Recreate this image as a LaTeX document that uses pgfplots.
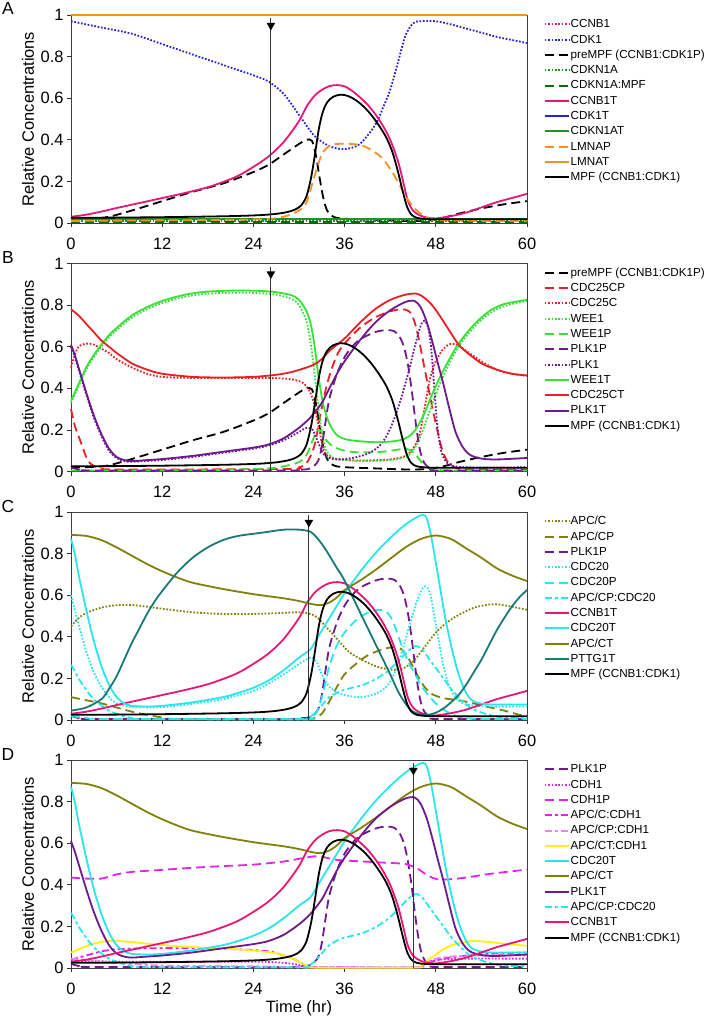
\documentclass[border=0pt]{standalone}
\usepackage{fontspec}
\setmainfont{Liberation Sans}
\usepackage{pgfplots}
\usepackage{pgfplotstable}
\pgfplotsset{compat=1.18}

\definecolor{cpink}{RGB}{232,22,118}
\definecolor{cblue}{RGB}{35,35,215}
\definecolor{corange}{RGB}{245,145,35}
\definecolor{cgreenA}{RGB}{30,150,30}
\definecolor{cgreenB}{RGB}{15,105,15}
\definecolor{cgreenT}{RGB}{35,145,35}
\definecolor{cred}{RGB}{235,30,35}
\definecolor{clime}{RGB}{55,225,55}
\definecolor{cpurple}{RGB}{110,25,140}
\definecolor{colive}{RGB}{128,128,10}
\definecolor{ccyan}{RGB}{40,230,235}
\definecolor{cteal}{RGB}{25,120,120}
\definecolor{cmag}{RGB}{228,35,228}
\definecolor{cviolet}{RGB}{238,130,238}
\definecolor{cyellow}{RGB}{255,240,20}

\pgfplotsset{
  dotd/.style={dash pattern=on 1.7bp off 1.7bp},
  dashd/.style={dash pattern=on 9bp off 5bp},
  dashdotd/.style={dash pattern=on 7bp off 3bp on 3bp off 3bp},
  panel/.style={
    scale only axis, width=456bp, height=208bp,
    xmin=0, xmax=60, ymin=0, ymax=1,
    xtick={0,12,24,36,48,60}, ytick={0,0.2,0.4,0.6,0.8,1},
    tick align=outside, xtick pos=bottom, ytick pos=left,
    major tick length=4bp,
    tick style={black!80, line width=0.7bp},
    axis line style={black!75, line width=0.8bp},
    ticklabel style={font=\fontsize{16.5}{18}\selectfont},
    xticklabel style={yshift=-7bp},
    /pgf/number format/assume math mode=true,
    ylabel={Relative Concentrations},
    ylabel style={font=\fontsize{16.5}{18}\selectfont, at={(axis description cs:-0.0943,0.5)}, anchor=center},
    clip=false,
    legend style={at={(1,1)}, anchor=north west, xshift=16.7bp, yshift=-1.7bp,
      draw=none, fill=none, inner sep=0pt, outer sep=0pt,
      font=\fontsize{11.7}{12}\selectfont,
      nodes={inner sep=1bp, text height=10bp, text depth=3.3bp},
      row sep=0pt, cells={anchor=west}},
    legend image code/.code={\draw[line width=2bp, #1] (0bp,0bp) -- (24bp,0bp);},
    every axis plot/.append style={line width=1.8bp, smooth},
  }
}

\pgfplotstableread{
t v
0 0.025
6 0.026
12 0.028
18 0.031
22 0.034
25 0.038
27 0.044
28.5 0.053
29.5 0.065
30.3 0.085
31 0.13
31.6 0.22
32.1 0.33
32.6 0.45
33.1 0.53
33.7 0.58
34.5 0.607
35.5 0.617
36.5 0.61
37.5 0.59
38.5 0.56
39.5 0.52
40.5 0.47
41.5 0.41
42.3 0.34
43 0.25
43.6 0.16
44.2 0.08
44.8 0.04
45.5 0.025
46.5 0.02
48 0.018
54 0.018
60 0.018
}\tMPF

\pgfplotstableread{
t v
0 0.03
2 0.04
4 0.055
6 0.072
8 0.088
10 0.104
12 0.12
14 0.136
16 0.153
18 0.172
20 0.197
22 0.227
24 0.27
26 0.32
28 0.39
30 0.49
31 0.56
32 0.61
33 0.64
34 0.658
35 0.663
36 0.657
37 0.635
38 0.605
39 0.57
40 0.525
41 0.47
42 0.4
43 0.3
43.7 0.2
44.3 0.11
45 0.06
46 0.035
47 0.025
48 0.022
50 0.033
52 0.05
54 0.075
56 0.1
58 0.12
60 0.14
}\tCCNBT

\pgfplotstableread{
t v
0 0.02
3 0.022
5 0.03
8 0.06
12 0.105
16 0.15
20 0.19
24 0.245
26 0.28
28 0.33
30 0.38
31 0.4
31.7 0.395
32.2 0.33
32.7 0.22
33.2 0.12
33.7 0.06
34.3 0.035
35.5 0.022
40 0.015
44 0.01
47 0.012
49 0.025
51 0.045
54 0.07
57 0.09
60 0.105
}\tpreMPF

\pgfplotstableread{
t v
0 0.02
1 0.01
3 0.005
28 0.005
30 0.008
31.5 0.015
32.5 0.05
33 0.12
33.5 0.24
34 0.35
35 0.47
36 0.55
37 0.6
38 0.635
40 0.67
41.5 0.68
42.5 0.675
43.2 0.65
43.8 0.6
44.3 0.52
44.8 0.4
45.2 0.28
45.6 0.17
46 0.09
46.5 0.04
47.2 0.015
48 0.005
60 0.005
}\tPLKP

\pgfplotstableread{
t v
0 0.61
0.5 0.56
1 0.5
2 0.38
3 0.27
4 0.18
5 0.11
6 0.07
7 0.055
8 0.05
10 0.055
12 0.06
16 0.075
20 0.095
24 0.115
26 0.13
28 0.16
30 0.21
31.5 0.26
33 0.33
34 0.4
35 0.47
36 0.53
38 0.63
40 0.715
42 0.775
44 0.815
45.2 0.82
46 0.79
46.8 0.72
47.5 0.63
48.2 0.53
49 0.42
49.8 0.3
50.6 0.19
51.5 0.12
52.5 0.08
54 0.062
56 0.058
60 0.065
}\tPLKT

\pgfplotstableread{
t v
0 0.87
0.5 0.8
1 0.7
2 0.53
3 0.38
4 0.26
5 0.17
6 0.11
7 0.08
8 0.068
10 0.065
12 0.068
16 0.085
20 0.11
22 0.13
24 0.155
26 0.19
28 0.24
30 0.3
31.5 0.34
32.5 0.4
33.5 0.46
35 0.55
36 0.61
38 0.71
40 0.8
42 0.875
44 0.94
45.5 0.975
46.3 0.987
46.8 0.97
47.3 0.9
47.8 0.8
48.5 0.65
49.2 0.5
50 0.36
51 0.22
52 0.13
53 0.09
55 0.075
60 0.075
}\tCDCT

\pgfplotstableread{
t v
0 0.89
2 0.885
4 0.865
6 0.83
8 0.79
10 0.75
12 0.715
14 0.685
16 0.66
20 0.63
24 0.605
28 0.585
30 0.572
32 0.555
33 0.553
34 0.565
35 0.59
36 0.625
38 0.67
40 0.72
42 0.775
44 0.83
46 0.87
48 0.887
50 0.87
52 0.825
54 0.78
56 0.73
58 0.695
60 0.668
}\tAPCT

\pgfplotstableread{
t v
0 0.265
0.5 0.235
1 0.2
2 0.145
3 0.1
4 0.07
5 0.045
6 0.03
7 0.018
8 0.01
10 0.004
30 0.003
31 0.005
32 0.03
33 0.07
34 0.11
35.5 0.14
37 0.155
38.5 0.17
40 0.195
41.5 0.23
43 0.28
44 0.32
45 0.35
45.6 0.355
46.3 0.335
47 0.3
48 0.25
49 0.2
50 0.15
51 0.11
52 0.075
53 0.05
55 0.025
57 0.012
60 0.008
}\tAPCCDC

\begin{document}
\begin{tikzpicture}
\path[use as bounding box] (0,0) rectangle (706bp,-1019bp);

% ---------------- Panel A ----------------
\begin{axis}[panel, name=pA, at={(71bp,-223bp)}, anchor=south west]
\addplot[cpink, dotd] coordinates {(0,0.008) (30,0.008) (60,0.008)};
\addlegendentry{CCNB1}
\addplot[cblue, dotd] coordinates {(0,0.97) (4,0.94) (8,0.91) (12,0.86) (16,0.81) (20,0.76) (24,0.71) (26,0.68) (28,0.62) (30,0.52) (32,0.42) (34,0.37) (36,0.355) (38,0.38) (40,0.47) (41,0.55) (42,0.64) (43,0.77) (44,0.9) (45,0.96) (46,0.97) (48,0.97) (50,0.955) (52,0.935) (54,0.915) (56,0.895) (58,0.88) (60,0.865)};
\addlegendentry{CDK1}
\addplot[black, dashd] table[x=t,y=v] {\tpreMPF};
\addlegendentry{preMPF (CCNB1:CDK1P)}
\addplot[cgreenA, dotd] coordinates {(0,0.012) (30,0.012) (60,0.012)};
\addlegendentry{CDKN1A}
\addplot[cgreenB, dashd] coordinates {(0,0.006) (30,0.006) (60,0.006)};
\addlegendentry{CDKN1A:MPF}
\addplot[cpink] table[x=t,y=v] {\tCCNBT};
\addlegendentry{CCNB1T}
\addplot[cblue] coordinates {(0,1) (30,1) (60,1)};
\addlegendentry{CDK1T}
\addplot[cgreenT] coordinates {(0,0.02) (30,0.02) (60,0.02)};
\addlegendentry{CDKN1AT}
\addplot[corange, dashd] coordinates {(0,0.01) (20,0.015) (26,0.02) (28,0.03) (30,0.06) (31,0.1) (32,0.22) (33,0.33) (34,0.37) (35,0.38) (37,0.38) (38.5,0.37) (40,0.34) (41,0.31) (42,0.26) (43,0.2) (44,0.13) (45,0.08) (46,0.045) (47,0.025) (48,0.015) (54,0.01) (60,0.01)};
\addlegendentry{LMNAP}
\addplot[corange] coordinates {(0,1) (30,1) (60,1)};
\addlegendentry{LMNAT}
\addplot[black] table[x=t,y=v] {\tMPF};
\addlegendentry{MPF (CCNB1:CDK1)}
\addplot[black!80, line width=0.8bp, forget plot] coordinates {(26.3,0) (26.3,0.985)};
\addplot[only marks, mark=triangle*, mark size=3.2bp, mark options={rotate=180, fill=black, draw=black}, forget plot] coordinates {(26.3,0.95)};
\end{axis}

% ---------------- Panel B ----------------
\begin{axis}[panel, name=pB, at={(71bp,-471.5bp)}, anchor=south west]
\addplot[black, dashd] table[x=t,y=v] {\tpreMPF};
\addlegendentry{preMPF (CCNB1:CDK1P)}
\addplot[cred, dashd] coordinates {(0,0.3) (0.5,0.22) (1,0.17) (1.5,0.12) (2,0.07) (2.5,0.04) (3.5,0.02) (6,0.01) (28,0.012) (30,0.02) (31,0.04) (32,0.12) (32.7,0.25) (33.3,0.36) (34,0.46) (35,0.56) (36,0.615) (38,0.69) (40,0.74) (42,0.77) (43.5,0.78) (44.5,0.77) (45.2,0.72) (45.8,0.63) (46.5,0.5) (47.2,0.37) (48,0.23) (48.8,0.11) (49.5,0.05) (50.5,0.02) (52,0.01) (60,0.01)};
\addlegendentry{CDC25CP}
\addplot[cred, dotd] coordinates {(0,0.5) (0.5,0.56) (1,0.6) (2,0.615) (3,0.61) (4,0.59) (5,0.57) (6,0.54) (8,0.5) (10,0.47) (12,0.455) (16,0.45) (24,0.45) (28,0.447) (30,0.435) (31,0.41) (31.8,0.35) (32.4,0.25) (33,0.14) (33.6,0.08) (35,0.06) (38,0.053) (42,0.058) (44,0.075) (45,0.11) (45.8,0.17) (46.5,0.3) (47.2,0.44) (48,0.53) (49,0.59) (50,0.614) (51,0.605) (52,0.58) (54,0.53) (56,0.49) (58,0.47) (60,0.46)};
\addlegendentry{CDC25C}
\addplot[clime, dotd] coordinates {(0,0.33) (1,0.41) (2,0.49) (3,0.55) (4,0.6) (5,0.645) (6,0.68) (8,0.74) (10,0.78) (12,0.81) (15,0.84) (18,0.855) (22,0.86) (25,0.857) (27,0.85) (29,0.83) (30,0.8) (31,0.72) (31.6,0.6) (32.2,0.42) (32.8,0.24) (33.4,0.12) (34,0.08) (35,0.06) (38,0.05) (42,0.055) (44,0.07) (45,0.1) (46,0.17) (47,0.27) (48,0.37) (49,0.46) (50.5,0.57) (52,0.65) (54,0.73) (56,0.78) (58,0.805) (60,0.82)};
\addlegendentry{WEE1}
\addplot[clime, dashd] coordinates {(0,0.005) (10,0.005) (20,0.008) (26,0.015) (28,0.025) (30,0.045) (31,0.08) (31.8,0.15) (32.4,0.2) (33,0.19) (33.6,0.15) (34.5,0.12) (36,0.1) (38,0.092) (41,0.095) (43,0.105) (44,0.11) (45,0.095) (45.8,0.06) (46.5,0.03) (47.5,0.012) (50,0.005) (60,0.005)};
\addlegendentry{WEE1P}
\addplot[cpurple, dashd] table[x=t,y=v] {\tPLKP};
\addlegendentry{PLK1P}
\addplot[cpurple, dotd] coordinates {(0,0.6) (0.5,0.55) (1,0.49) (2,0.37) (3,0.26) (4,0.17) (5,0.1) (6,0.065) (7,0.05) (8,0.047) (12,0.055) (16,0.07) (20,0.09) (24,0.11) (26,0.125) (28,0.15) (30,0.19) (31,0.21) (31.8,0.2) (32.4,0.15) (33,0.1) (33.6,0.07) (35,0.058) (37,0.065) (39,0.085) (40.5,0.12) (41.5,0.17) (42.5,0.25) (43.5,0.36) (44.5,0.49) (45.3,0.61) (46,0.7) (46.5,0.725) (47,0.69) (47.4,0.59) (47.8,0.4) (48.2,0.22) (48.7,0.1) (49.3,0.05) (50,0.03) (52,0.02) (60,0.02)};
\addlegendentry{PLK1}
\addplot[clime] coordinates {(0,0.34) (1,0.42) (2,0.5) (3,0.56) (4,0.61) (5,0.655) (6,0.69) (8,0.75) (10,0.79) (12,0.82) (15,0.85) (18,0.865) (22,0.87) (25,0.868) (27,0.862) (29,0.848) (30,0.825) (31,0.77) (31.6,0.7) (32.1,0.59) (32.6,0.45) (33.2,0.32) (34,0.23) (35,0.175) (36.5,0.152) (40,0.141) (43,0.148) (44.5,0.17) (45.5,0.21) (46.5,0.28) (47.5,0.37) (48.5,0.45) (49.5,0.52) (51,0.615) (53,0.705) (55,0.77) (57,0.805) (60,0.825)};
\addlegendentry{WEE1T}
\addplot[cred] coordinates {(0,0.78) (1,0.75) (2,0.71) (3,0.67) (4,0.63) (5,0.6) (6,0.57) (8,0.52) (10,0.49) (12,0.47) (16,0.455) (20,0.452) (24,0.455) (27,0.465) (29,0.478) (31,0.5) (32,0.515) (33,0.54) (34,0.58) (36,0.64) (38,0.715) (40,0.78) (42,0.825) (44,0.85) (45.5,0.855) (46.5,0.835) (47.5,0.8) (48.5,0.75) (50,0.665) (51,0.61) (52,0.575) (54,0.52) (56,0.49) (58,0.47) (60,0.462)};
\addlegendentry{CDC25CT}
\addplot[cpurple] table[x=t,y=v] {\tPLKT};
\addlegendentry{PLK1T}
\addplot[black] table[x=t,y=v] {\tMPF};
\addlegendentry{MPF (CCNB1:CDK1)}
\addplot[black!80, line width=0.8bp, forget plot] coordinates {(26.3,0) (26.3,0.985)};
\addplot[only marks, mark=triangle*, mark size=3.2bp, mark options={rotate=180, fill=black, draw=black}, forget plot] coordinates {(26.3,0.95)};
\end{axis}

% ---------------- Panel C ----------------
\begin{axis}[panel, name=pC, at={(71bp,-720bp)}, anchor=south west]
\addplot[colive, dotd] coordinates {(0,0.45) (1,0.49) (2,0.515) (4,0.54) (6,0.552) (8,0.553) (10,0.545) (12,0.535) (16,0.518) (20,0.51) (24,0.51) (28,0.515) (30,0.518) (31.5,0.51) (32.5,0.49) (33.5,0.45) (35,0.39) (36.5,0.33) (38,0.295) (40,0.26) (42,0.242) (43.5,0.245) (45,0.28) (46.5,0.35) (48,0.42) (49.5,0.47) (51,0.505) (53,0.54) (55,0.555) (56,0.557) (58,0.545) (60,0.53)};
\addlegendentry{APC/C}
\addplot[colive, dashd] coordinates {(0,0.11) (2,0.095) (4,0.08) (6,0.06) (8,0.04) (10,0.025) (12,0.012) (14,0.005) (30,0.005) (32,0.01) (33,0.03) (34,0.09) (35,0.16) (36,0.22) (37.5,0.27) (39,0.31) (41,0.34) (42.5,0.35) (43.5,0.34) (44.5,0.29) (45.5,0.22) (46.5,0.16) (47.5,0.125) (49,0.105) (51,0.095) (53,0.08) (55,0.062) (57,0.045) (59,0.025) (60,0.016)};
\addlegendentry{APC/CP}
\addplot[cpurple, dashd] table[x=t,y=v] {\tPLKP};
\addlegendentry{PLK1P}
\addplot[ccyan, dotd] coordinates {(0,0.6) (0.5,0.53) (1,0.46) (2,0.33) (3,0.23) (4,0.16) (5,0.11) (6,0.08) (8,0.063) (12,0.062) (16,0.078) (20,0.1) (24,0.14) (26,0.175) (28,0.22) (30,0.27) (31.5,0.3) (32.3,0.28) (33,0.22) (34,0.16) (35.5,0.125) (38,0.11) (40,0.125) (41.5,0.16) (42.5,0.22) (43.5,0.32) (44.5,0.45) (45.5,0.57) (46.3,0.635) (46.8,0.64) (47.3,0.6) (47.8,0.5) (48.4,0.38) (49,0.26) (49.8,0.16) (50.8,0.1) (52,0.075) (55,0.065) (60,0.065)};
\addlegendentry{CDC20}
\addplot[ccyan, dashd] coordinates {(0,0.02) (2,0.01) (5,0.005) (30,0.005) (31.5,0.01) (32.5,0.05) (33.3,0.15) (34,0.26) (35,0.36) (36,0.42) (37.5,0.48) (39,0.515) (40.5,0.53) (41.5,0.52) (42.3,0.48) (43,0.41) (43.8,0.33) (44.5,0.27) (45.3,0.22) (46,0.17) (47,0.12) (48,0.08) (49,0.05) (50,0.03) (51,0.015) (53,0.006) (60,0.005)};
\addlegendentry{CDC20P}
\addplot[ccyan, dashdotd] table[x=t,y=v] {\tAPCCDC};
\addlegendentry{APC/CP:CDC20}
\addplot[cpink] table[x=t,y=v] {\tCCNBT};
\addlegendentry{CCNB1T}
\addplot[ccyan] table[x=t,y=v] {\tCDCT};
\addlegendentry{CDC20T}
\addplot[colive] table[x=t,y=v] {\tAPCT};
\addlegendentry{APC/CT}
\addplot[cteal] coordinates {(0,0.045) (2,0.06) (4,0.1) (5,0.15) (6,0.21) (7,0.29) (8,0.37) (9,0.44) (10,0.51) (11,0.57) (12,0.62) (14,0.71) (16,0.78) (18,0.83) (20,0.865) (22,0.885) (25,0.9) (28,0.915) (30,0.915) (31.5,0.905) (32.5,0.87) (33.5,0.82) (35,0.73) (36,0.67) (38,0.52) (40,0.37) (42,0.22) (43,0.14) (44,0.08) (45,0.04) (46,0.028) (47,0.025) (48,0.035) (49,0.055) (50,0.085) (51,0.12) (52,0.17) (53,0.23) (54,0.29) (55,0.36) (56,0.43) (57,0.49) (58,0.545) (59,0.59) (60,0.625)};
\addlegendentry{PTTG1T}
\addplot[black] table[x=t,y=v] {\tMPF};
\addlegendentry{MPF (CCNB1:CDK1)}
\addplot[black!80, line width=0.8bp, forget plot] coordinates {(31.3,0) (31.3,0.985)};
\addplot[only marks, mark=triangle*, mark size=3.2bp, mark options={rotate=180, fill=black, draw=black}, forget plot] coordinates {(31.3,0.95)};
\end{axis}

% ---------------- Panel D ----------------
\begin{axis}[panel, name=pD, at={(71bp,-968bp)}, anchor=south west,
  xlabel={Time (hr)}, xlabel style={font=\fontsize{16.5}{18}\selectfont}]
\addplot[cpurple, dashd] table[x=t,y=v] {\tPLKP};
\addlegendentry{PLK1P}
\addplot[cmag, dotd] coordinates {(0,0.035) (4,0.032) (8,0.03) (14,0.03) (20,0.03) (25,0.03) (28,0.025) (30,0.015) (31,0.005) (45,0.003) (46,0.01) (47,0.03) (48.5,0.04) (52,0.045) (60,0.045)};
\addlegendentry{CDH1}
\addplot[cmag, dashd] coordinates {(0,0.435) (2,0.43) (4,0.43) (6,0.45) (8,0.462) (12,0.472) (16,0.482) (20,0.49) (24,0.497) (28,0.512) (30,0.525) (32,0.537) (33,0.535) (35,0.52) (38,0.513) (42,0.505) (44,0.5) (45.5,0.48) (46.5,0.455) (47.5,0.435) (48.5,0.425) (50,0.427) (52,0.435) (55,0.452) (58,0.465) (60,0.473)};
\addlegendentry{CDH1P}
\addplot[cmag, dashdotd] coordinates {(0,0.04) (2,0.06) (4,0.08) (6,0.09) (10,0.095) (16,0.095) (22,0.09) (26,0.08) (28,0.06) (29.5,0.04) (30.5,0.02) (31.5,0.005) (45,0.003) (46,0.01) (47,0.025) (49,0.045) (52,0.06) (56,0.07) (60,0.075)};
\addlegendentry{APC/C:CDH1}
\addplot[cviolet, dashdotd] coordinates {(0,0.045) (3,0.035) (6,0.025) (10,0.015) (14,0.01) (25,0.008) (31,0.003) (45,0.003) (46,0.008) (47,0.03) (48,0.045) (50,0.055) (53,0.06) (56,0.062) (60,0.062)};
\addlegendentry{APC/CP:CDH1}
\addplot[cyellow] coordinates {(0,0.075) (1,0.09) (2,0.105) (3,0.118) (4,0.125) (5,0.13) (6,0.13) (8,0.125) (10,0.117) (14,0.105) (18,0.097) (22,0.09) (25,0.08) (27,0.07) (28.5,0.055) (29.5,0.04) (30.5,0.02) (31.3,0.005) (32,0.002) (45,0.002) (46,0.01) (47,0.04) (48,0.065) (49,0.09) (50,0.108) (51.5,0.122) (53,0.13) (55,0.125) (57.5,0.115) (60,0.107)};
\addlegendentry{APC/CT:CDH1}
\addplot[ccyan] table[x=t,y=v] {\tCDCT};
\addlegendentry{CDC20T}
\addplot[colive] table[x=t,y=v] {\tAPCT};
\addlegendentry{APC/CT}
\addplot[cpurple] table[x=t,y=v] {\tPLKT};
\addlegendentry{PLK1T}
\addplot[ccyan, dashdotd] table[x=t,y=v] {\tAPCCDC};
\addlegendentry{APC/CP:CDC20}
\addplot[cpink] table[x=t,y=v] {\tCCNBT};
\addlegendentry{CCNB1T}
\addplot[black] table[x=t,y=v] {\tMPF};
\addlegendentry{MPF (CCNB1:CDK1)}
\addplot[black!80, line width=0.8bp, forget plot] coordinates {(45.05,0) (45.05,0.985)};
\addplot[only marks, mark=triangle*, mark size=3.2bp, mark options={rotate=180, fill=black, draw=black}, forget plot] coordinates {(45.05,0.95)};
\end{axis}

\node[font=\fontsize{17.5}{20}\selectfont] at (8bp,-9bp) {A};
\node[font=\fontsize{17.5}{20}\selectfont] at (8bp,-257bp) {B};
\node[font=\fontsize{17.5}{20}\selectfont] at (8bp,-506bp) {C};
\node[font=\fontsize{17.5}{20}\selectfont] at (8bp,-754bp) {D};
\end{tikzpicture}
\end{document}
